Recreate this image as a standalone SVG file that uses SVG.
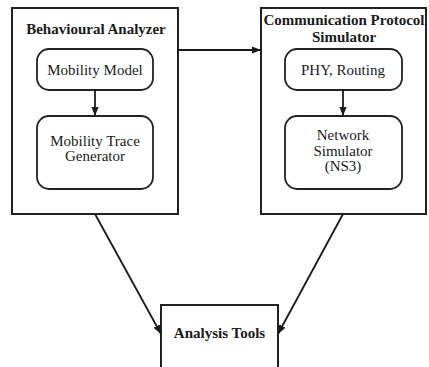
<svg xmlns="http://www.w3.org/2000/svg" width="429" height="367" viewBox="0 0 429 367">
  <style>
    .box { fill: #ffffff; stroke: #222222; stroke-width: 2; }
    .inner { fill: #ffffff; stroke: #222222; stroke-width: 1.8; }
    .title { font-family: "Liberation Serif", "Times New Roman", serif; font-size: 15px; font-weight: bold; fill: #1a1a1a; text-anchor: middle; }
    .label { font-family: "Liberation Serif", "Times New Roman", serif; font-size: 15px; fill: #1a1a1a; text-anchor: middle; }
    .edge { fill: none; stroke: #1a1a1a; stroke-width: 1.8; marker-end: url(#arrow); }
  </style>
  <defs>
    <marker id="arrow" viewBox="0 0 10 10" refX="10" refY="5" markerWidth="9" markerHeight="9" markerUnits="userSpaceOnUse" orient="auto">
      <path d="M0,1 L10,5 L0,9 Z" fill="#1a1a1a"/>
    </marker>
  </defs>

  <rect width="429" height="367" fill="#ffffff"/>

  <g id="behavioural-analyzer">
    <rect class="box" x="12" y="8" width="166" height="206"/>
    <text class="title" x="96" y="34">Behavioural Analyzer</text>
  </g>
  <g id="mobility-model">
    <rect class="inner" x="37" y="49" width="116" height="41" rx="12"/>
    <text class="label" x="95" y="75">Mobility Model</text>
  </g>
  <g id="mobility-trace-generator">
    <rect class="inner" x="37" y="116" width="116" height="73" rx="12"/>
    <text class="label" x="95" y="146">Mobility Trace</text>
    <text class="label" x="95" y="161">Generator</text>
  </g>

  <g id="communication-protocol-simulator">
    <rect class="box" x="261" y="8" width="165" height="206"/>
    <text class="title" x="344" y="25">Communication Protocol</text>
    <text class="title" x="344" y="42">Simulator</text>
  </g>
  <g id="phy-routing">
    <rect class="inner" x="285" y="49" width="117" height="41" rx="12"/>
    <text class="label" x="343" y="75">PHY, Routing</text>
  </g>
  <g id="network-simulator">
    <rect class="inner" x="285" y="116" width="117" height="73" rx="12"/>
    <text class="label" x="343" y="140">Network</text>
    <text class="label" x="343" y="156">Simulator</text>
    <text class="label" x="343" y="171">(NS3)</text>
  </g>

  <g id="analysis-tools">
    <rect class="box" x="161" y="305" width="117" height="70"/>
    <text class="title" x="219.5" y="338">Analysis Tools</text>
  </g>

  <g id="connectors">
    <line class="edge" x1="95" y1="90" x2="95" y2="116"/>
    <line class="edge" x1="343" y1="90" x2="343" y2="116"/>
    <line class="edge" x1="178" y1="50" x2="261" y2="50"/>
    <line class="edge" x1="95" y1="214" x2="161" y2="334"/>
    <line class="edge" x1="343" y1="214" x2="278" y2="334"/>
  </g>
</svg>
